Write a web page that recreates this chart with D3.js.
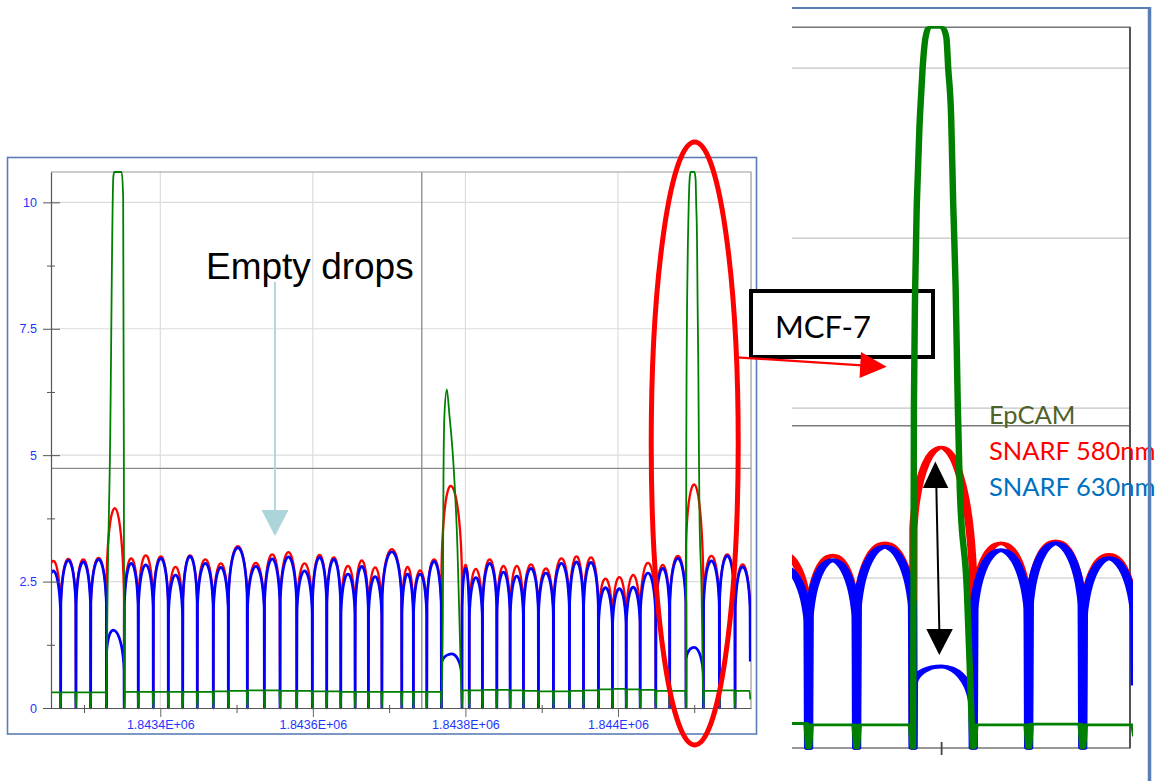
<!DOCTYPE html>
<html>
<head>
<meta charset="utf-8">
<script src="https://cdn.jsdelivr.net/npm/d3@7"></script>
<style>
  html, body { margin: 0; padding: 0; background: #ffffff; }
  svg { display: block; }
</style>
</head>
<body>
<svg id="fig" width="1162" height="781"></svg>
<script>
// ---------------------------------------------------------------
// Droplet trace: three detector channels over time
// ---------------------------------------------------------------

// Valleys between consecutive droplets (time units); drop i spans [i, i+1]
const dropBounds = [
  1843250.0, 1843269.4, 1843289.4, 1843308.7, 1843329.5, 1843352.6, 1843371.1, 1843390.8,
  1843410.5, 1843429.4, 1843448.5, 1843469.5, 1843489.2, 1843514.1, 1843536.4, 1843557.0,
  1843578.9, 1843599.3, 1843618.2, 1843636.6, 1843655.4, 1843672.8, 1843690.5, 1843716.6,
  1843731.8, 1843749.4, 1843768.5, 1843795.5, 1843805.0, 1843822.3, 1843841.2, 1843858.6,
  1843876.1, 1843895.7, 1843915.4, 1843936.4, 1843954.8, 1843974.4, 1843992.8, 1844010.8,
  1844029.1, 1844049.6, 1844067.8, 1844089.2, 1844112.0, 1844133.0, 1844153.5, 1844173.4
];

// Drops that carry an MCF-7 cell
const cellDrops = [4, 26, 43];

// Peak level of each drop, SNARF 580 nm channel
const peak580 = [
  2.91, 2.95, 2.94, 2.97, 3.95, 2.96, 3.02, 3.00, 2.79, 3.02, 2.94, 2.86,
  3.20, 2.87, 3.04, 3.08, 2.86, 3.03, 2.98, 2.81, 2.92, 2.78, 3.14, 2.79,
  2.72, 2.94, 4.39, 2.83, 2.75, 2.94, 2.81, 2.81, 2.84, 2.76, 2.96, 3.00,
  2.98, 2.56, 2.59, 2.63, 2.87, 2.83, 3.01, 4.42, 3.01, 3.04, 2.84
];

// Peak level of each drop, SNARF 630 nm channel
const peak630 = [
  2.71, 2.92, 2.89, 2.94, 1.54, 2.86, 2.83, 2.96, 2.63, 3.00, 2.86, 2.78,
  3.17, 2.80, 2.95, 2.99, 2.71, 2.98, 2.94, 2.65, 2.80, 2.60, 3.09, 2.65,
  2.65, 2.90, 1.07, 2.76, 2.58, 2.86, 2.69, 2.61, 2.76, 2.67, 2.86, 2.89,
  2.88, 2.38, 2.36, 2.39, 2.67, 2.76, 2.96, 1.20, 2.91, 3.01, 2.79
];

// EpCAM background level inside each drop
const epcamBase = [
  0.31, 0.31, 0.31, 0.31, 0.31, 0.32, 0.32, 0.32, 0.32, 0.32, 0.32, 0.33,
  0.34, 0.35, 0.35, 0.34, 0.34, 0.33, 0.33, 0.32, 0.32, 0.32, 0.32, 0.32,
  0.32, 0.32, 0.32, 0.35, 0.35, 0.36, 0.36, 0.35, 0.34, 0.33, 0.33, 0.34,
  0.35, 0.37, 0.38, 0.37, 0.36, 0.34, 0.34, 0.34, 0.34, 0.35, 0.34
];

// EpCAM trace through each cell drop: [time, level]
const cellEpcam = [
  [[1843329.5, 0], [1843330.4, 1.6], [1843334.1, 5.1], [1843338.4, 10.5], [1843339.7, 10.6],
   [1843349.4, 10.6], [1843351.3, 10.1], [1843352.2, 5.1], [1843352.6, 0]],
  [[1843768.5, 0], [1843770.4, 1.8], [1843771.2, 4.5], [1843772.5, 5.8], [1843775.6, 6.3],
   [1843779.0, 5.8], [1843784.3, 4.83], [1843789.5, 3.19], [1843793.1, 1.21], [1843795.5, 0]],
  [[1844089.2, 0], [1844089.5, 5.0], [1844090.0, 6.8], [1844090.6, 8.0], [1844091.8, 9.3],
   [1844092.8, 10.0], [1844093.9, 10.45], [1844095.3, 10.6], [1844100.2, 10.6], [1844101.8, 10.45],
   [1844102.5, 10.0], [1844103.6, 9.3], [1844104.4, 8.0], [1844105.3, 6.8], [1844106.1, 5.1],
   [1844106.9, 3.8], [1844109.6, 2.3], [1844110.7, 1.15], [1844112.0, 0]]
];

// SNARF levels at the edges of each cell drop and where in the drop the peak sits:
// [level at entry, level at exit, peak position (fraction of drop)]
const cell580Edges = [[2.3, 1.8, 0.47], [2.4, 2.4, 0.45], [3.0, 2.2, 0.47]];
const cell630Edges = [[1.0, 0.62, 0.38], [0.85, 0.55, 0.50], [0.92, 0.55, 0.47]];

// Last recorded sample of each channel
const tailEpcam = 0.17, tail580 = 1.7, tail630 = 0.92;

// Axes
const yTicks = [0, 2.5, 5, 7.5, 10];
const yMinorTicks = [1.25, 3.75, 6.25, 8.75];
const xTicks = [1843400, 1843600, 1843800, 1844000];
const xMinorTicks = [1843300, 1843500, 1843700, 1843900, 1844100];
const yMax = 10.6;
const fullRange = [1843256.7, 1844174.4];
const zoomRange = [1844043.3, 1844171.4];

// Cursor cross-hair of the acquisition software
const cursorTime = 1843742.8, cursorLevel = 4.74;

// Annotation texts
const legendLabels = ["EpCAM", "SNARF 580nm", "SNARF 630nm"];
const legendColors = ["#4f6228", "#ff0000", "#0070c0"];
const emptyLabel = "Empty drops";
const cellLabel = "MCF-7";
const cellCenterTime = 1844098;

// ---------------------------------------------------------------
// Build channel traces from the drop table
// ---------------------------------------------------------------
// Envelope of an empty drop: steep walls, rounded dome
const ARCH_T = [0, 0.012, 0.03, 0.06, 0.1, 0.16, 0.24, 0.33, 0.42, 0.5, 0.58, 0.67, 0.76, 0.84, 0.9, 0.94, 0.97, 0.988, 1];
function archProfile(P) {
  return ARCH_T.map(t => [t, (t === 0 || t === 1) ? 0 : P * (0.62 + 0.38 * Math.sqrt(1 - (2 * t - 1) ** 2))]);
}
// Envelope of a cell drop: asymmetric dome between entry/exit levels
const CELL_U = [0.012, 0.05, 0.12, 0.25, 0.45, 0.7, 1];
const CELL_W = [0.3, 0.55, 0.75, 0.88, 0.95, 0.988];
function cellProfile(P, Lv, Rv, tp) {
  const pts = [[0, 0]];
  CELL_U.forEach(u => pts.push([tp * u, Lv + (P - Lv) * Math.sqrt(1 - (1 - u) ** 2)]));
  CELL_W.forEach(w => pts.push([tp + (1 - tp) * w, Rv + (P - Rv) * Math.sqrt(1 - w * w)]));
  pts.push([1, 0]);
  return pts;
}
function snarfTrace(peaks, edges, tail) {
  const pts = [];
  peaks.forEach((P, i) => {
    const a = dropBounds[i], b = dropBounds[i + 1];
    const ci = cellDrops.indexOf(i);
    const prof = ci < 0 ? archProfile(P) : cellProfile(P, edges[ci][0], edges[ci][1], edges[ci][2]);
    prof.forEach(([t, v], k) => {
      if (i > 0 && k === 0) return;
      pts.push([a + t * (b - a), v]);
    });
  });
  pts[pts.length - 1] = [pts[pts.length - 1][0], tail];
  return pts;
}
function epcamTrace() {
  const pts = [];
  const add = p => { if (!pts.length || p[0] > pts[pts.length - 1][0]) pts.push(p); };
  epcamBase.forEach((base, i) => {
    const a = dropBounds[i], b = dropBounds[i + 1];
    const ci = cellDrops.indexOf(i);
    if (ci >= 0) { cellEpcam[ci].forEach(add); return; }
    add([a, 0]); add([a + 0.9, base]); add([b - 0.9, base]); add([b, 0]);
  });
  pts[pts.length - 1] = [pts[pts.length - 1][0], tailEpcam];
  return pts;
}
const series = [
  { key: "s580", color: "#ff0000", pts: snarfTrace(peak580, cell580Edges, tail580) },
  { key: "s630", color: "#0000ff", pts: snarfTrace(peak630, cell630Edges, tail630) },
  { key: "epcam", color: "#008000", pts: epcamTrace() }
];

// ---------------------------------------------------------------
// Drawing
// ---------------------------------------------------------------
const svg = d3.select("#fig");
const defs = svg.append("defs");
const FRAME = "#5a7db5";
const AXIS_TXT = "#1f35ff";
const sans = "'Liberation Sans', Arial, sans-serif";
const human = "Lato, 'Open Sans', sans-serif";

// ---------- left: full trace ----------
const P = { x0: 51, x1: 751, y0: 172, y1: 708 };
const xL = d3.scaleLinear().domain(fullRange).range([P.x0, P.x1]);
const yL = d3.scaleLinear().domain([0, yMax]).range([P.y1, P.y0]);

svg.append("rect")
  .attr("x", 7.5).attr("y", 157.5).attr("width", 749).attr("height", 576.5)
  .attr("fill", "#fff").attr("stroke", FRAME).attr("stroke-width", 1.6);

const gL = svg.append("g");
// grid
gL.selectAll(".vg").data(xTicks).join("line")
  .attr("x1", d => xL(d)).attr("x2", d => xL(d)).attr("y1", P.y0).attr("y2", P.y1)
  .attr("stroke", "#dcdcdc").attr("stroke-width", 1.2);
gL.selectAll(".hg").data(yTicks.filter(d => d > 0)).join("line")
  .attr("x1", P.x0).attr("x2", P.x1).attr("y1", d => yL(d)).attr("y2", d => yL(d))
  .attr("stroke", "#dcdcdc").attr("stroke-width", 1.2);
// cursor
gL.append("line").attr("x1", xL(cursorTime)).attr("x2", xL(cursorTime)).attr("y1", P.y0).attr("y2", P.y1)
  .attr("stroke", "#8a8a8a").attr("stroke-width", 1.3);
gL.append("line").attr("x1", P.x0).attr("x2", P.x1).attr("y1", yL(cursorLevel)).attr("y2", yL(cursorLevel))
  .attr("stroke", "#8a8a8a").attr("stroke-width", 1.3);
// plot border (top/right)
gL.append("path").attr("d", `M${P.x0},${P.y0}H${P.x1}V${P.y1}`)
  .attr("fill", "none").attr("stroke", "#9a9a9a").attr("stroke-width", 1.2);

defs.append("clipPath").attr("id", "clipL").append("rect")
  .attr("x", P.x0).attr("y", P.y0 - 10).attr("width", P.x1 - P.x0).attr("height", P.y1 - P.y0 + 12);
const lineL = d3.line().x(d => xL(d[0])).y(d => yL(d[1])).curve(d3.curveMonotoneX);
const widthL = { s580: 2.3, s630: 2.7, epcam: 1.8 };
gL.append("g").attr("clip-path", "url(#clipL)")
  .selectAll("path").data(series).join("path")
  .attr("d", d => lineL(d.pts)).attr("fill", "none")
  .attr("stroke", d => d.color).attr("stroke-width", d => widthL[d.key])
  .attr("stroke-linejoin", "round");

// axes
const fmtSci = v => {
  const [m, e] = d3.format(".5~e")(v).split("e");
  return m + "E" + e[0] + e.slice(1).padStart(2, "0");
};
const axY = gL.append("g").attr("transform", `translate(${P.x0},0)`)
  .call(d3.axisLeft(yL).tickValues(yTicks).tickFormat(d3.format("~g")).tickSize(8).tickPadding(6).tickSizeOuter(0));
axY.selectAll(".tick line").attr("x1", 9).attr("stroke", "#555");
const axYm = gL.append("g").attr("transform", `translate(${P.x0},0)`)
  .call(d3.axisLeft(yL).tickValues(yMinorTicks).tickFormat("").tickSize(4));
axYm.select(".domain").remove();
axYm.selectAll(".tick line").attr("x1", 4).attr("stroke", "#555");

const axX = gL.append("g").attr("transform", `translate(0,${P.y1})`)
  .call(d3.axisBottom(xL).tickValues(xTicks).tickFormat(fmtSci).tickSize(9).tickPadding(3).tickSizeOuter(0));
axX.selectAll(".tick line").attr("stroke", "#666");
const axXm = gL.append("g").attr("transform", `translate(0,${P.y1})`)
  .call(d3.axisBottom(xL).tickValues(xMinorTicks).tickFormat("").tickSize(5));
axXm.select(".domain").remove();
axXm.selectAll(".tick line").attr("y1", -3).attr("stroke", "#555");
[axY, axX].forEach(ax => {
  ax.select(".domain").attr("stroke", "#555").attr("stroke-width", 1.2);
  ax.selectAll("text").attr("fill", AXIS_TXT).style("font-family", sans).style("font-size", "12.5px");
});

// "Empty drops" annotation
svg.append("text").attr("x", 206).attr("y", 278.5).text(emptyLabel)
  .style("font-family", sans).style("font-size", "37px").attr("fill", "#000");
const ARROW_TEAL = "#abd5d8";
svg.append("line").attr("x1", 275).attr("x2", 275).attr("y1", 282).attr("y2", 511)
  .attr("stroke", ARROW_TEAL).attr("stroke-width", 1.8);
svg.append("path").attr("d", "M261.5,510L288.5,510L275,536Z").attr("fill", ARROW_TEAL);

// ---------- "MCF-7" callout box ----------
svg.append("rect").attr("x", 751).attr("y", 291).attr("width", 182).attr("height", 66)
  .attr("fill", "#fff").attr("stroke", "#000").attr("stroke-width", 4);
svg.append("text").attr("x", 775).attr("y", 338).text(cellLabel)
  .style("font-family", human).style("font-size", "31px").attr("fill", "#000");

// ---------- right: zoom on the cell drop ----------
const Z = { x0: 792, x1: 1130, y0: 27.3, y1: 748 };
const kx = 2.3;   // horizontal stretch of the zoomed trace
const xR = d3.scaleLinear().domain(zoomRange).range([0, (Z.x1 - Z.x0) / kx]);
const yR = d3.scaleLinear().domain([0, yMax]).range([Z.y1, Z.y0]);

const gZ = svg.append("g");
gZ.selectAll(".hg").data(yTicks.filter(d => d > 0)).join("line")
  .attr("x1", Z.x0).attr("x2", Z.x1).attr("y1", d => yR(d)).attr("y2", d => yR(d))
  .attr("stroke", "#c4c4c4").attr("stroke-width", 1.2);
gZ.append("line").attr("x1", Z.x0).attr("x2", Z.x1).attr("y1", yR(cursorLevel)).attr("y2", yR(cursorLevel))
  .attr("stroke", "#7a7a7a").attr("stroke-width", 1.4);
gZ.append("path").attr("d", `M${Z.x0},${Z.y0}H${Z.x1}V${Z.y1}H${Z.x0}`)
  .attr("fill", "none").attr("stroke", "#777").attr("stroke-width", 1.6);
gZ.append("line").attr("x1", Z.x1).attr("x2", Z.x1).attr("y1", Z.y0).attr("y2", Z.y1)
  .attr("stroke", "#444").attr("stroke-width", 1.6);
// single minor tick under the cell
xMinorTicks.filter(d => d >= zoomRange[0] && d <= zoomRange[1]).forEach(d => {
  gZ.append("line").attr("x1", Z.x0 + kx * xR(d)).attr("x2", Z.x0 + kx * xR(d))
    .attr("y1", Z.y1 - 6).attr("y2", Z.y1 + 7).attr("stroke", "#444").attr("stroke-width", 1.8);
});

const gZs = gZ.append("g").attr("transform", `translate(${Z.x0},0) scale(${kx},1)`);
gZs.append("clipPath").attr("id", "clipZ").append("rect")
  .attr("x", 0).attr("y", 0).attr("width", (1133 - Z.x0) / kx).attr("height", 781);
const lineR = d3.line().x(d => xR(d[0])).y(d => yR(d[1])).curve(d3.curveMonotoneX);
const widthR = { s580: 3.6, s630: 4.0, epcam: 2.8 };
gZs.append("g").attr("clip-path", "url(#clipZ)")
  .selectAll("path").data(series).join("path")
  .attr("d", d => lineR(d.pts)).attr("fill", "none")
  .attr("stroke", d => d.color).attr("stroke-width", d => widthR[d.key])
  .attr("stroke-linejoin", "round");

// ratio arrow between the two SNARF peaks of the cell
const ax0 = Z.x0 + kx * xR(cellCenterTime);
svg.append("line").attr("x1", ax0).attr("y1", 486).attr("x2", ax0 + 3).attr("y2", 631)
  .attr("stroke", "#000").attr("stroke-width", 2);
svg.append("path").attr("d", `M${ax0 - 1},461.5L${ax0 - 13.5},488L${ax0 + 12},488Z`).attr("fill", "#000");
svg.append("path").attr("d", `M${ax0 + 3},655L${ax0 - 10},629L${ax0 + 16.5},629Z`).attr("fill", "#000");

// legend
svg.append("g").selectAll("text").data(legendLabels).join("text")
  .attr("x", 989).attr("y", (d, i) => [423.5, 460, 496][i])
  .text(d => d).attr("fill", (d, i) => legendColors[i])
  .style("font-family", human).style("font-size", "25.5px");

// outer frame of the zoom panel
svg.append("path").attr("d", "M792,8H1149.5").attr("stroke", FRAME).attr("stroke-width", 2).attr("fill", "none");
svg.append("path").attr("d", "M1149.5,7V781").attr("stroke", FRAME).attr("stroke-width", 3.5).attr("fill", "none");

// ---------- red call-out linking the cell drop to the zoom ----------
const ex = xL(cellCenterTime) + 2;
svg.append("ellipse").attr("cx", ex).attr("cy", 443.5).attr("rx", 43.5).attr("ry", 301.5)
  .attr("fill", "none").attr("stroke", "#ff0000").attr("stroke-width", 5);
svg.append("line").attr("x1", ex + 42).attr("y1", 357.3).attr("x2", 862).attr("y2", 365.3)
  .attr("stroke", "#ff0000").attr("stroke-width", 2.2);
svg.append("path").attr("d", "M861,352L859.5,378L886.7,366.7Z").attr("fill", "#ff0000");
</script>
</body>
</html>
